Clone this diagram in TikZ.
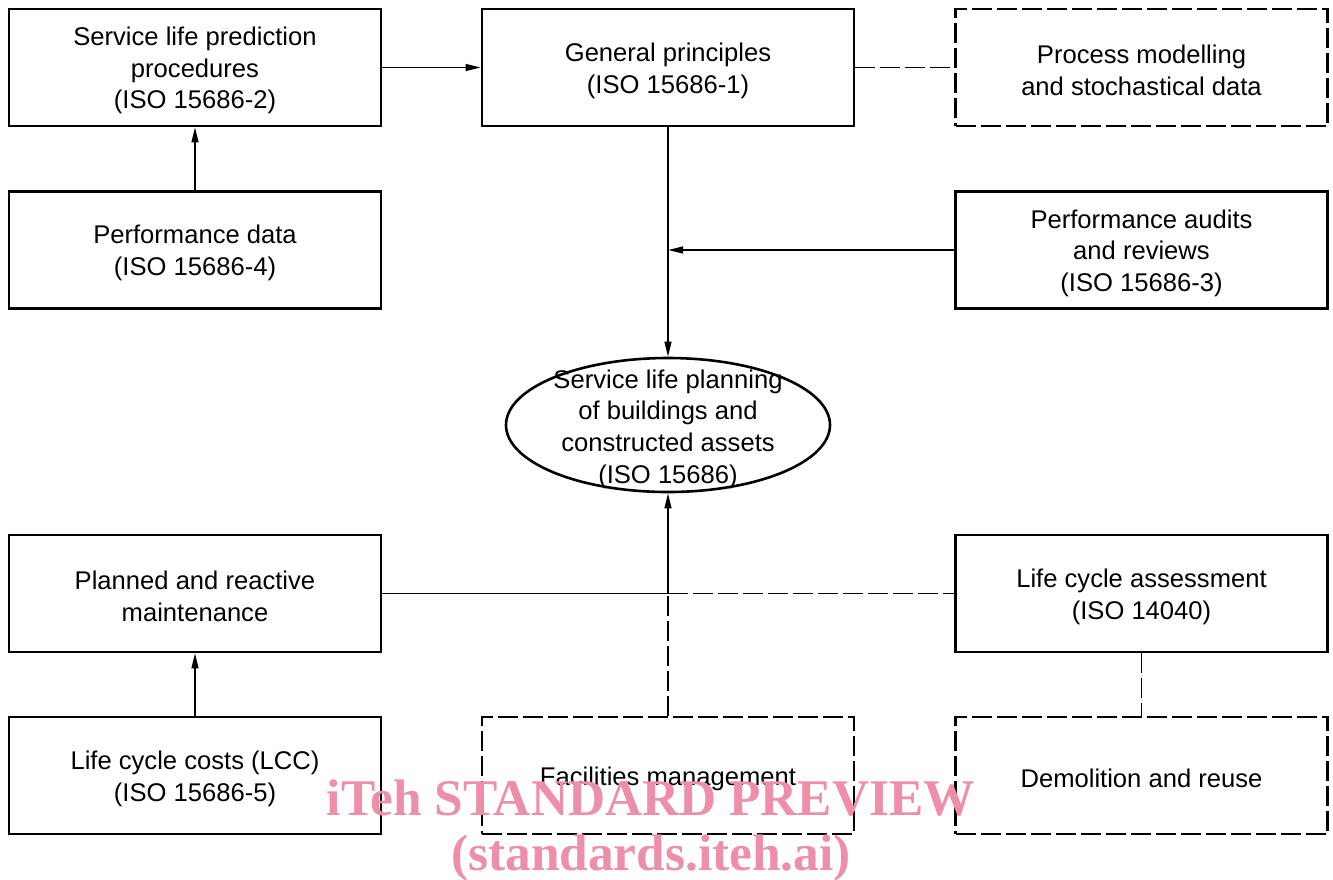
\documentclass[tikz,border=0pt]{standalone}
\usepackage{fontspec}
\setmainfont{Liberation Sans}
\newfontfamily\wmfont{Liberation Serif}
\usetikzlibrary{shapes.geometric,arrows.meta}
\definecolor{wmpink}{RGB}{238,143,170}
\newcommand\tstrut{\rule{0pt}{12.4pt}}
\newcommand\ostrut{\rule{0pt}{13.4pt}}
\begin{document}
\begin{tikzpicture}[x=0.5pt,y=-0.5pt,
  every node/.style={font=\fontsize{12.8}{15.8}\selectfont, align=center},
  box/.style={draw, line width=1.3pt, minimum width=186pt, minimum height=58.5pt, inner sep=0pt},
  dbox/.style={box, dash pattern=on 10pt off 2.5pt},
  oval/.style={draw, ellipse, line width=1.3pt, minimum width=161pt, minimum height=67pt, inner xsep=0pt, inner ysep=-9pt},
  conn/.style={line width=0.9pt},
  arr/.style={conn, -{Triangle[length=7.5pt,width=3.4pt]}},
  dline/.style={conn, dash pattern=on 10pt off 2.5pt},
  wm/.style={text=wmpink, font=\wmfont\bfseries\fontsize{25.7}{30}\selectfont}
]
\useasboundingbox (0,0) rectangle (1333,879);
% boxes
\node[box]  (slp) at (195,67.5) {\tstrut Service life prediction\\procedures\\(ISO 15686-2)};
\node[box]  (gp)  at (668,67.5) {\tstrut General principles\\(ISO 15686-1)};
\node[dbox] (pm)  at (1141.5,67.5) {\tstrut Process modelling\\and stochastical data};
\node[box]  (pd)  at (195,250) {\tstrut Performance data\\(ISO 15686-4)};
\node[box]  (pa)  at (1141.5,250) {\tstrut Performance audits\\and reviews\\(ISO 15686-3)};
\node[oval] (spl) at (668,425) {\ostrut Service life planning\\of buildings and\\constructed assets\\(ISO 15686)};
\node[box]  (prm) at (195,593.5) {\tstrut Planned and reactive\\maintenance};
\node[box]  (lca) at (1141.5,593.5) {\tstrut Life cycle assessment\\(ISO 14040)};
\node[box]  (lcc) at (195,775.5) {\tstrut Life cycle costs (LCC)\\(ISO 15686-5)};
\node[dbox] (fm)  at (668,775.5) {\tstrut Facilities management};
\node[dbox] (dr)  at (1141.5,775.5) {\tstrut Demolition and reuse};
% connectors
\draw[arr] (slp.east) -- (gp.west);
\draw[dline] (gp.east) -- (pm.west);
\draw[arr] (gp.south) -- (spl.north);
\coordinate (j1) at (gp.south |- pa.west);
\draw[arr] (pa.west) -- (j1);
\draw[arr] (pd.north) -- (slp.south);
\draw[arr] (lcc.north) -- (prm.south);
\coordinate (j2) at (spl.south |- prm.east);
\draw[conn] (prm.east) -- (j2);
\draw[dline] (j2) -- (lca.west);
\draw[dline] (fm.north) -- (j2);
\draw[arr] (j2) -- (spl.south);
\draw[dline] (lca.south) -- (dr.north);
% watermark
\node[wm] (w1) at (651,798) {iTeh STANDARD PREVIEW};
\node[wm] (w2) at (651,858) {(standards.iteh.ai)};
\end{tikzpicture}
\end{document}
